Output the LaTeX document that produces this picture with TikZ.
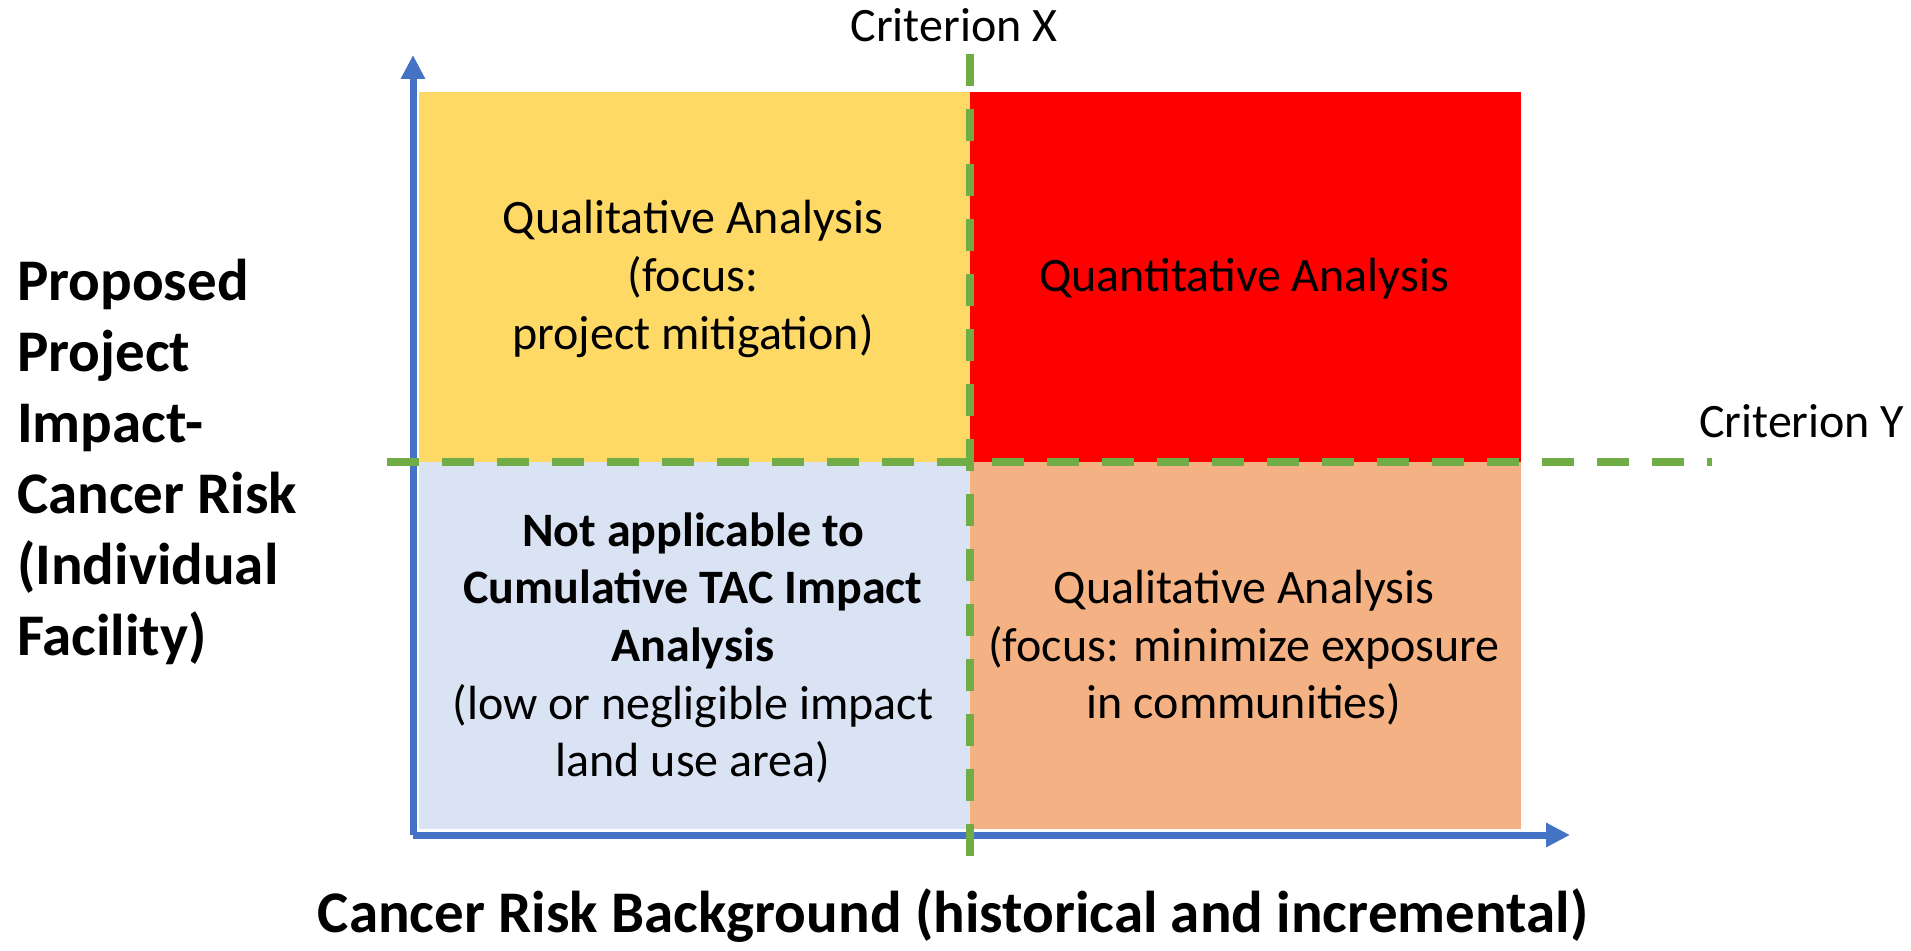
\documentclass[tikz,border=0pt]{standalone}
\usepackage{fontspec}
\setmainfont{Carlito}
\usetikzlibrary{arrows.meta}
\definecolor{quadyellow}{HTML}{FFD966}
\definecolor{quadred}{HTML}{FF0000}
\definecolor{quadorange}{HTML}{F4B183}
\definecolor{quadblue}{HTML}{DAE3F3}
\definecolor{axisblue}{HTML}{4472C4}
\definecolor{critgreen}{HTML}{70AD47}

\begin{document}
\begin{tikzpicture}[x=0.5pt, y=-0.5pt,
    axis/.style={draw=axisblue, line width=3.5pt, -{Triangle[length=12pt, width=11.5pt]}},
    crit/.style={draw=critgreen, line width=4pt, dash pattern=on 16pt off 11.5pt},
    quadtext/.style={align=center, font=\fontsize{24}{28.8}\selectfont},
    crittext/.style={font=\fontsize{24}{28}\selectfont},
    bigtext/.style={font=\fontsize{29.5}{35.5}\selectfont\bfseries}]
    \useasboundingbox (0, 0) rectangle (1911, 951);
    % quadrants
    \fill[quadyellow] (419, 92) rectangle (970, 462);
    \fill[quadred] (970, 92) rectangle (1521, 462);
    \fill[quadblue] (419, 462) rectangle (970, 829);
    \fill[quadorange] (970, 462) rectangle (1521, 829);
    % axes
    \coordinate (origin) at (413, 835);
    \coordinate (ytip) at (413, 55);
    \coordinate (xtip) at (1570, 835);
    \draw[axis] (origin) -- (ytip);
    \draw[axis] (origin) -- (xtip);
    % criteria
    \coordinate (xtop) at (970, 54);
    \coordinate (xbot) at (970, 868);
    \coordinate (yleft) at (387, 462);
    \coordinate (yright) at (1712, 462);
    \draw[crit] (xtop) -- (xbot);
    \draw[crit] (yleft) -- (yright);
    \node[crittext] (critx) at (954, 25) {Criterion X};
    \node[crittext, anchor=west] (crity) at (1692, 421) {Criterion Y};
    % labels
    \node[quadtext] (qualmit) at (693, 279) {Qualitative Analysis\\(focus:\\project mitigation)};
    \node[quadtext] (quant) at (1244, 279) {Quantitative Analysis};
    \node[quadtext] (notappl) at (693, 648) {\textbf{Not applicable to}\\\textbf{Cumulative TAC Impact}\\\textbf{Analysis}\\(low or negligible impact\\land use area)};
    \node[quadtext] (qualexp) at (1244, 648) {Qualitative Analysis\\(focus: minimize exposure\\in communities)};
    \node[bigtext, align=left, anchor=west] (ylabel) at (10, 462) {Proposed\\Project\\Impact-\\Cancer Risk\\(Individual\\Facility)};
    \node[bigtext] (xlabel) at (953, 916) {Cancer Risk Background (historical and incremental)};
\end{tikzpicture}
\end{document}
